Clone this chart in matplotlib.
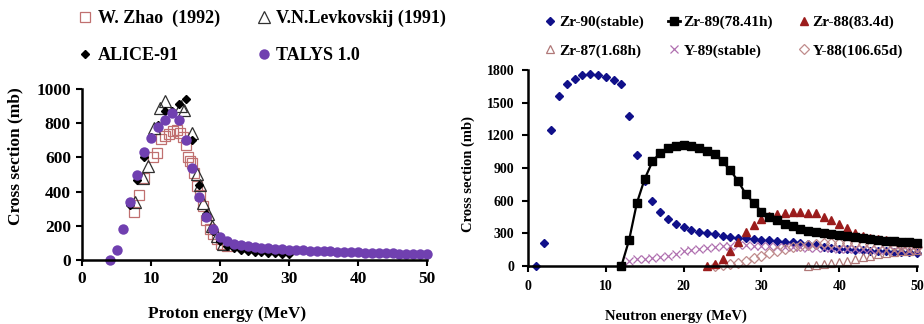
import numpy as np
import matplotlib
matplotlib.use('Agg')
import matplotlib.pyplot as plt
from matplotlib.lines import Line2D

plt.rcParams['font.family'] = ['Liberation Serif', 'DejaVu Serif']
plt.rcParams['font.weight'] = 'bold'

# left panel: proton induced
zhao_x = [7.5, 8.2, 9.0, 10.3, 10.9, 11.4, 12.0, 12.6, 13.2, 13.7, 14.2, 14.7, 15.0,
          15.3, 15.7, 16.0, 16.3, 16.7, 17.1, 17.5, 18.0, 18.5, 19.0, 19.5, 20.2, 21.0]
zhao_y = [280, 380, 480, 600, 625, 705, 725, 735, 755, 760, 740, 720, 675,
          600, 580, 565, 510, 430, 380, 315, 235, 180, 150, 125, 95, 80]
levk_x = [7.7, 8.8, 9.6, 10.5, 11.3, 12.1, 14.3, 14.8, 16.0, 16.6, 17.1, 17.6, 18.2, 18.8, 19.5, 20.5]
levk_y = [340, 480, 550, 770, 890, 930, 900, 880, 740, 505, 440, 335, 270, 200, 140, 95]
alice_x = np.arange(7, 31)
alice_y = [320, 470, 600, 720, 790, 870, 870, 910, 940, 700, 440, 270, 170, 110,
           80, 68, 58, 52, 48, 45, 42, 40, 38, 36]
talys_x = np.arange(4, 51)
talys_y = [0, 60, 180, 340, 500, 630, 715, 780, 820, 860, 820, 700, 540, 370, 250, 180,
           135, 110, 95, 85, 80, 76, 72, 69, 66, 63, 61, 59, 57, 55, 53, 52, 50, 49, 47,
           46, 44, 43, 42, 41, 40, 39, 37, 36, 35, 34, 33]

# right panel: neutron induced
zr90_x = np.arange(1, 51)
zr90_y = [0, 215, 1250, 1560, 1670, 1720, 1750, 1760, 1750, 1735, 1710, 1670, 1380, 1020,
          780, 600, 500, 430, 385, 355, 335, 315, 300, 290, 280, 270, 260, 255, 245, 240,
          235, 228, 222, 216, 212, 205, 190, 175, 165, 158, 153, 148, 144, 140, 137, 134,
          131, 128, 125, 122]
zr89_x = np.arange(12, 51)
zr89_y = [0, 240, 580, 800, 960, 1040, 1080, 1100, 1110, 1100, 1085, 1060, 1030, 960, 880,
          780, 660, 580, 500, 450, 420, 390, 365, 340, 320, 310, 300, 292, 285, 275, 265,
          255, 247, 240, 234, 228, 223, 218, 214]
zr88_x = np.arange(23, 51)
zr88_y = [0, 20, 60, 140, 220, 310, 380, 430, 460, 480, 490, 495, 495, 490, 488, 451,
          420, 390, 350, 300, 280, 260, 245, 236, 230, 224, 218, 214]
zr87_x = np.arange(36, 51)
zr87_y = [0, 5, 15, 30, 40, 50, 65, 80, 95, 110, 120, 128, 135, 140, 145]
y89_x = np.arange(12, 51)
y89_y = [0, 50, 60, 65, 70, 80, 95, 110, 135, 145, 155, 165, 172, 180, 188, 190, 190, 188,
         183, 180, 178, 175, 172, 170, 168, 166, 164, 162, 160, 158, 156, 154, 152, 150,
         148, 146, 144, 142, 140]
y88_x = np.arange(24, 51)
y88_y = [0, 5, 15, 30, 50, 70, 95, 115, 135, 155, 170, 185, 195, 205, 210, 215, 215, 215,
         210, 205, 200, 195, 190, 185, 180, 178, 175]

fig = plt.figure(figsize=(9.24, 3.24), dpi=100)
ax1 = fig.add_axes([82/924, 1-260/324, 345/924, 171/324])
ax2 = fig.add_axes([528/924, 1-266/324, 389/924, 196/324])

purple = '#7040b0'
ax1.plot(zhao_x, zhao_y, 's', ms=7, mfc='none', mec='#c07070', mew=0.9, clip_on=False)
ax1.plot(levk_x, levk_y, '^', ms=8, mfc='none', mec='#303030', mew=0.9, clip_on=False)
ax1.plot(alice_x, alice_y, 'D', ms=4.5, color='black', clip_on=False)
ax1.plot(talys_x, talys_y, 'o', ms=7.5, color=purple, mec='none', clip_on=False)

ax2.plot(zr90_x, zr90_y, 'D', ms=4.5, color='#10108a', clip_on=False)
ax2.plot(y89_x, y89_y, 'x', ms=5.5, color='#b070b0', mew=0.9, clip_on=False)
ax2.plot(y88_x, y88_y, 'D', ms=5, mfc='none', mec='#c08c8c', mew=0.9, clip_on=False)
ax2.plot(zr87_x, zr87_y, '^', ms=6, mfc='none', mec='#b07878', mew=0.9, clip_on=False)
ax2.plot(zr88_x, zr88_y, '^', ms=6, color='#9b1c1c', clip_on=False)
ax2.plot(zr89_x, zr89_y, 's-', ms=6, lw=1.6, color='black', clip_on=False)

for ax in (ax1, ax2):
    ax.spines['top'].set_visible(False)
    ax.spines['right'].set_visible(False)
    ax.spines['left'].set_linewidth(1.8)
    ax.spines['bottom'].set_linewidth(1.8)
    ax.tick_params(direction='out', length=4, width=1.5)
    ax.set_xlim(0, 50)
    ax.set_xticks([0, 10, 20, 30, 40, 50])

ax1.set_ylim(0, 1000)
ax1.set_yticks(np.arange(0, 1001, 200))
ax1.tick_params(labelsize=12.5, pad=4)
ax1.set_xlabel('Proton energy (MeV)', fontsize=12.5, fontweight='bold')
ax1.xaxis.set_label_coords(0.42, -0.27)
ax1.set_ylabel('Cross section (mb)', fontsize=12.5, fontweight='bold')
ax1.yaxis.set_label_coords(-0.17, 0.61)

ax2.set_ylim(0, 1800)
ax2.set_yticks(np.arange(0, 1801, 300))
ax2.tick_params(labelsize=10, pad=6)
ax2.set_xlabel('Neutron energy (MeV)', fontsize=10.5, fontweight='bold')
ax2.xaxis.set_label_coords(0.38, -0.22)
ax2.set_ylabel('Cross section (mb)', fontsize=10.5, fontweight='bold')
ax2.yaxis.set_label_coords(-0.135, 0.47)

# legends (handle order makes the rows come out right)
h_left = [
    Line2D([], [], ls='none', marker='s', ms=7, mfc='none', mec='#c07070', mew=0.9),
    Line2D([], [], ls='none', marker='D', ms=4.5, color='black'),
    Line2D([], [], ls='none', marker='^', ms=8, mfc='none', mec='#303030', mew=0.9),
    Line2D([], [], ls='none', marker='o', ms=7.5, color=purple, mec='none'),
]
l_left = ['W. Zhao  (1992)', 'ALICE-91', 'V.N.Levkovskij (1991)', 'TALYS 1.0']
fig.legend(h_left, l_left, ncol=2, loc='upper left', bbox_to_anchor=(62/924, 1.02),
           frameon=False, prop={'size': 13, 'weight': 'bold'}, handlelength=0.8,
           handletextpad=0.3, columnspacing=2.0, labelspacing=1.1)

h_right = [
    Line2D([], [], ls='none', marker='D', ms=4, color='#10108a'),
    Line2D([], [], ls='none', marker='^', ms=6, mfc='none', mec='#b07878', mew=0.9),
    Line2D([], [], ls='-', lw=2, marker='s', ms=6, color='black'),
    Line2D([], [], ls='none', marker='x', ms=5.5, color='#b070b0', mew=0.9),
    Line2D([], [], ls='none', marker='^', ms=6, color='#9b1c1c'),
    Line2D([], [], ls='none', marker='D', ms=5, mfc='none', mec='#c08c8c', mew=0.9),
]
l_right = ['Zr-90(stable)', 'Zr-87(1.68h)', 'Zr-89(78.41h)', 'Y-89(stable)',
           'Zr-88(83.4d)', 'Y-88(106.65d)']
fig.legend(h_right, l_right, ncol=3, loc='upper left', bbox_to_anchor=(530/924, 0.995),
           frameon=False, prop={'size': 11, 'weight': 'bold'}, handlelength=0.8,
           handletextpad=0.2, columnspacing=1.6, labelspacing=0.95)

fig.savefig('out.png', dpi=100)
